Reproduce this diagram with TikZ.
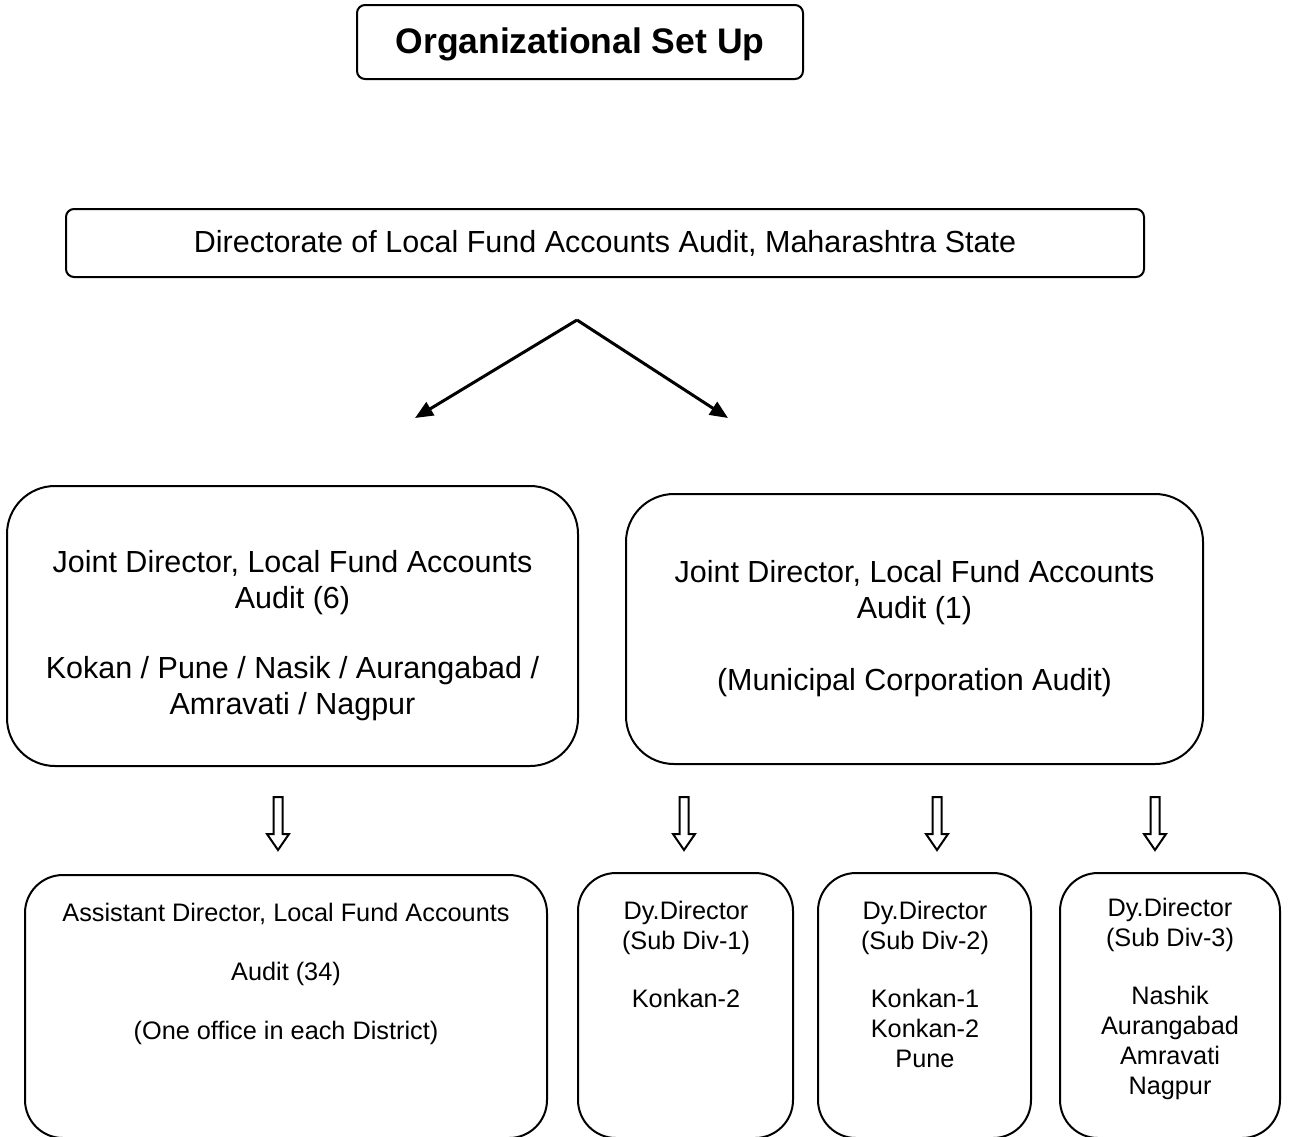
\documentclass[tikz,border=0pt]{standalone}
\usepackage{fontspec}
\setmainfont{Liberation Sans}
\usetikzlibrary{arrows.meta}
\tikzset{
  boxline/.style={draw=black, line width=2pt},
  titlebox/.style={boxline, rounded corners=8pt},
  bigbox/.style={boxline, rounded corners=48pt},
  smallbox/.style={boxline, rounded corners=38pt},
  bigtext/.style={align=center, inner sep=0pt, font=\fontsize{30.5}{36}\selectfont},
  smalltext/.style={align=center, inner sep=0pt, font=\fontsize{25.3}{30}\selectfont},
  splitarrow/.style={line width=3pt, -{Triangle[length=18pt,width=15pt]}},
  hollow/.pic={\draw[line width=2pt, line join=miter] (-4.5,0)--(4.5,0)--(4.5,37)--(11,37)--(0,53)--(-11,37)--(-4.5,37)--cycle;}
}
\begin{document}
\begin{tikzpicture}[x=1pt,y=-1pt]
\useasboundingbox (0,0) rectangle (1293,1136);
% title
\draw[titlebox] (357,5) rectangle (803,79);
\node[inner sep=0pt, font=\fontsize{35.5}{40}\selectfont\bfseries] (title) at (580,44) {Organizational Set Up};
% directorate
\draw[titlebox] (66,209) rectangle (1144,277);
\node[bigtext] (dir) at (605,243) {Directorate of Local Fund Accounts Audit, Maharashtra State};
% split arrows
\coordinate (apex) at (577,320);
\coordinate (leftend) at (415,418);
\coordinate (rightend) at (728,418);
\draw[splitarrow] (apex) -- (leftend);
\draw[splitarrow] (apex) -- (rightend);
% big boxes
\draw[bigbox] (7,486) rectangle (578,766);
\node[bigtext] (jdl) at (292.5,636) {Joint Director, Local Fund Accounts\\Audit (6)\\[34pt]Kokan / Pune / Nasik / Aurangabad /\\Amravati / Nagpur};
\draw[bigbox] (626,494) rectangle (1203,764);
\node[bigtext] (jdr) at (914.5,628.5) {Joint Director, Local Fund Accounts\\Audit (1)\\[36pt](Municipal Corporation Audit)};
% hollow arrows
\pic at (278,797) {hollow};
\pic at (684,797) {hollow};
\pic at (937,797) {hollow};
\pic at (1155,797) {hollow};
% bottom boxes
\draw[smallbox] (25,875) rectangle (547,1138);
\node[smalltext] (ad) at (286,974) {Assistant Director, Local Fund Accounts\\[29pt]Audit (34)\\[29pt](One office in each District)};
\draw[smallbox] (578,873) rectangle (793,1138);
\node[smalltext] (dd1) at (686,954) {Dy.Director\\(Sub Div-1)\\[28pt]Konkan-2};
\draw[smallbox] (818,873) rectangle (1031,1138);
\node[smalltext] (dd2) at (925,984) {Dy.Director\\(Sub Div-2)\\[28pt]Konkan-1\\Konkan-2\\Pune};
\draw[smallbox] (1060,873) rectangle (1280,1138);
\node[smalltext] (dd3) at (1170,999) {Dy.Director\\(Sub Div-3)\\[28pt]Nashik\\Aurangabad\\Amravati\\Nagpur};
\end{tikzpicture}
\end{document}
